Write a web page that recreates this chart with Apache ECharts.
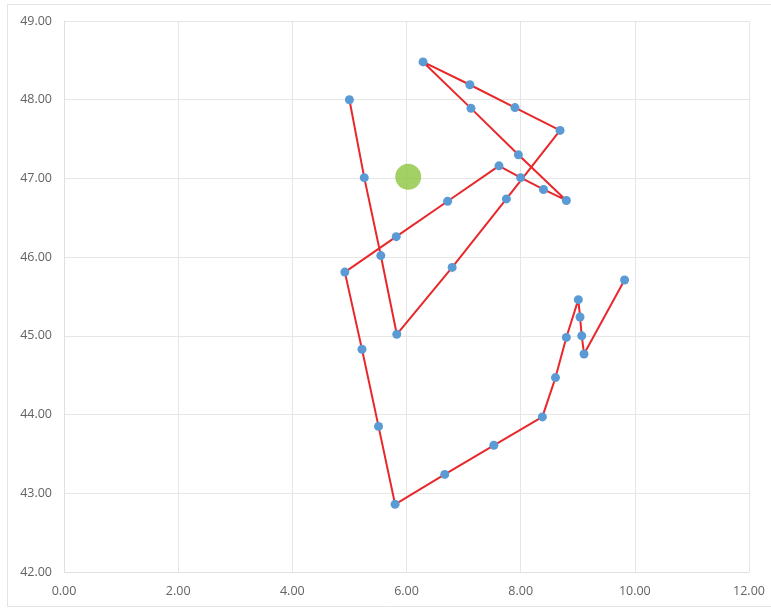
<!DOCTYPE html>
<html>
<head>
<meta charset="utf-8">
<style>
  html, body { margin: 0; padding: 0; background: #ffffff; }
  #chart { width: 771px; height: 609px; }
</style>
<script src="https://cdn.jsdelivr.net/npm/echarts@6/dist/echarts.min.js"></script>
</head>
<body>
<div id="chart"></div>
<script>
// Track points, in drawing order
const trackX = [5.00, 5.26, 5.55, 5.83, 6.80, 7.75, 8.69, 7.90, 7.11, 6.29,
                7.13, 7.96, 8.80, 8.40, 8.00, 7.62, 6.72, 5.82, 4.92, 5.22,
                5.51, 5.80, 6.67, 7.53, 8.38, 8.61, 8.80, 9.01, 9.04, 9.07,
                9.11, 9.82];
const trackY = [48.00, 47.01, 46.02, 45.02, 45.87, 46.74, 47.61, 47.90, 48.19, 48.48,
                47.89, 47.30, 46.72, 46.86, 47.01, 47.16, 46.71, 46.26, 45.81, 44.83,
                43.85, 42.86, 43.24, 43.61, 43.97, 44.47, 44.98, 45.46, 45.24, 45.00,
                44.77, 45.71];

// Single highlighted point
const markerX = [6.03];
const markerY = [47.02];

// Axis tick labels
const xTicks = ['0.00', '2.00', '4.00', '6.00', '8.00', '10.00', '12.00'];
const yTicks = ['42.00', '43.00', '44.00', '45.00', '46.00', '47.00', '48.00', '49.00'];

const trackData = trackX.map((x, i) => [x, trackY[i]]);
const markerData = markerX.map((x, i) => [x, markerY[i]]);

const chart = echarts.init(document.getElementById('chart'));
const labelStyle = { color: '#636363', fontSize: 12.5, fontFamily: 'Open Sans, sans-serif' };
const gridLine = { show: true, lineStyle: { color: '#E6E6E6', width: 1 } };

chart.setOption({
  animation: false,
  backgroundColor: '#ffffff',
  graphic: [{
    type: 'rect',
    shape: { x: 7.5, y: 4.5, width: 790, height: 602 },
    style: { fill: 'none', stroke: '#E3E3E3', lineWidth: 1 },
    silent: true,
    z: -1
  }],
  grid: { left: 64, right: 22, top: 21, bottom: 37 },
  xAxis: {
    type: 'value', min: 0, max: 12, interval: 2,
    axisLine: { show: true, lineStyle: { color: '#E0E0E0' } },
    axisTick: { show: false },
    splitLine: gridLine,
    axisLabel: Object.assign({ margin: 13, formatter: (v) => xTicks[Math.round(v / 2)] }, labelStyle)
  },
  yAxis: {
    type: 'value', min: 42, max: 49, interval: 1,
    axisLine: { show: true, lineStyle: { color: '#E0E0E0' } },
    axisTick: { show: false },
    splitLine: gridLine,
    axisLabel: Object.assign({ margin: 12, formatter: (v) => yTicks[Math.round(v - 42)] }, labelStyle)
  },
  series: [
    {
      type: 'line',
      data: trackData,
      symbol: 'circle',
      symbolSize: 9,
      showAllSymbol: true,
      lineStyle: { color: '#E8282B', width: 2 },
      itemStyle: { color: '#5B9BD5', borderWidth: 0 },
      z: 2
    },
    {
      type: 'scatter',
      data: markerData,
      symbol: 'circle',
      symbolSize: 26,
      itemStyle: { color: '#8DC63F' },
      z: 3
    }
  ]
});
</script>
</body>
</html>
